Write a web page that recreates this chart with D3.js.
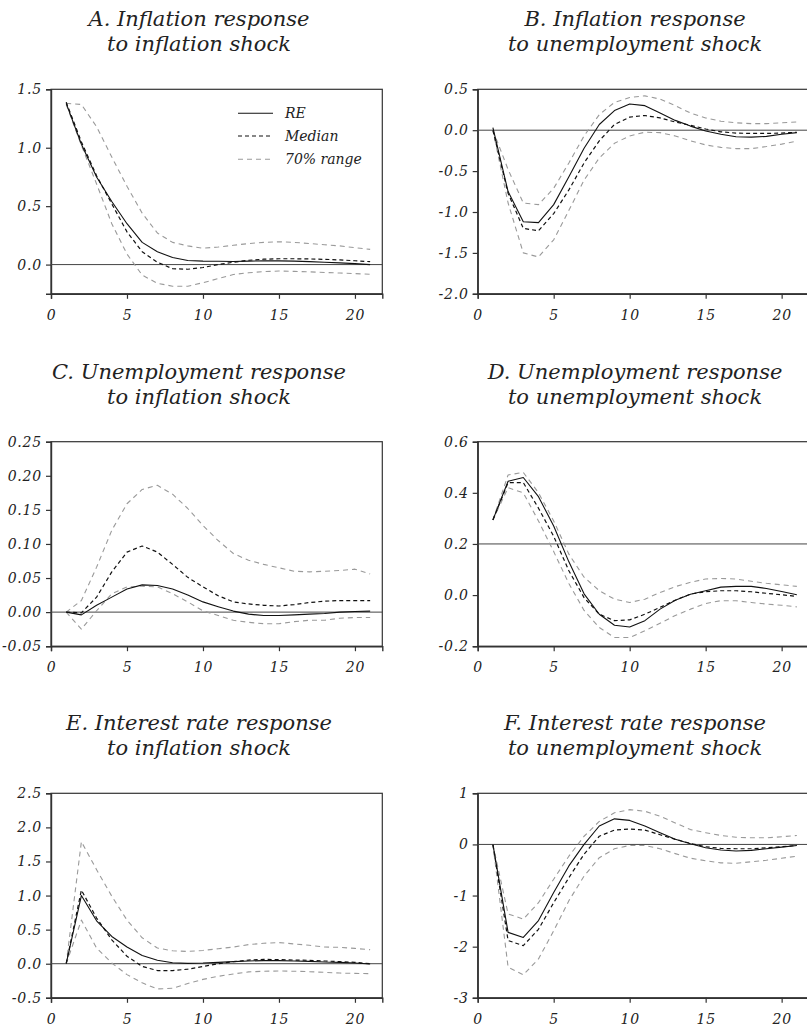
<!DOCTYPE html>
<html><head><meta charset="utf-8">
<script src="https://cdn.jsdelivr.net/npm/d3@7"></script>
<style>body{margin:0;background:#fff}svg{display:block}</style>
</head><body>
<svg id="chart" width="807" height="1027"></svg>
<script>
// ---------- data ----------
const periods = [1,2,3,4,5,6,7,8,9,10,11,12,13,14,15,16,17,18,19,20,21];
const xTicks = [0,5,10,15,20];

const aRE  = [1.38,1.03,0.75,0.54,0.35,0.19,0.11,0.06,0.035,0.03,0.028,0.027,0.03,0.032,0.032,0.03,0.025,0.02,0.015,0.008,0.0];
const aMed = [1.39,1.05,0.76,0.52,0.28,0.11,0.02,-0.035,-0.04,-0.025,0.0,0.02,0.037,0.046,0.05,0.05,0.048,0.045,0.04,0.033,0.025];
const aHi  = [1.38,1.37,1.18,0.92,0.67,0.44,0.27,0.19,0.16,0.14,0.15,0.165,0.18,0.19,0.195,0.19,0.18,0.17,0.16,0.145,0.13];
const aLo  = [1.37,1.02,0.69,0.35,0.09,-0.09,-0.16,-0.185,-0.185,-0.155,-0.12,-0.085,-0.07,-0.06,-0.055,-0.058,-0.062,-0.068,-0.072,-0.077,-0.083];

const bRE  = [0.03,-0.75,-1.12,-1.13,-0.91,-0.57,-0.22,0.07,0.24,0.32,0.30,0.21,0.12,0.05,-0.01,-0.05,-0.08,-0.085,-0.075,-0.05,-0.03];
const bMed = [0.0,-0.77,-1.2,-1.23,-1.02,-0.73,-0.40,-0.13,0.07,0.16,0.18,0.15,0.10,0.06,0.015,-0.02,-0.035,-0.04,-0.04,-0.035,-0.025];
const bHi  = [0.0,-0.48,-0.89,-0.91,-0.71,-0.40,-0.07,0.19,0.34,0.40,0.42,0.38,0.30,0.21,0.15,0.11,0.09,0.08,0.08,0.09,0.10];
const bLo  = [0.0,-0.89,-1.50,-1.55,-1.34,-0.98,-0.61,-0.34,-0.16,-0.07,-0.025,-0.03,-0.07,-0.13,-0.18,-0.21,-0.225,-0.225,-0.20,-0.17,-0.135];

const cRE  = [0,-0.004,0.01,0.022,0.034,0.040,0.039,0.034,0.025,0.015,0.008,0.0015,-0.003,-0.005,-0.005,-0.004,-0.003,-0.002,0.0,0.001,0.0015];
const cMed = [0,-0.001,0.022,0.059,0.088,0.097,0.088,0.070,0.051,0.037,0.024,0.015,0.012,0.010,0.009,0.011,0.014,0.016,0.017,0.017,0.017];
const cHi  = [0,0.017,0.066,0.12,0.159,0.18,0.186,0.173,0.152,0.127,0.105,0.086,0.076,0.070,0.065,0.060,0.059,0.060,0.061,0.063,0.056];
const cLo  = [0,-0.025,0.002,0.027,0.037,0.038,0.037,0.027,0.015,0.002,-0.005,-0.012,-0.015,-0.017,-0.017,-0.014,-0.012,-0.012,-0.009,-0.008,-0.008];

const dRE  = [0.294,0.445,0.46,0.385,0.27,0.13,0.005,-0.075,-0.118,-0.125,-0.10,-0.055,-0.02,0.003,0.017,0.031,0.034,0.034,0.026,0.014,0.001];
const dMed = [0.294,0.44,0.44,0.34,0.23,0.095,-0.01,-0.075,-0.10,-0.097,-0.075,-0.048,-0.02,0.004,0.013,0.017,0.017,0.013,0.007,0.001,-0.005];
const dHi  = [0.294,0.47,0.48,0.40,0.29,0.16,0.07,0.017,-0.016,-0.029,-0.016,0.01,0.033,0.05,0.063,0.065,0.063,0.054,0.046,0.04,0.034];
const dLo  = [0.294,0.42,0.40,0.29,0.17,0.045,-0.06,-0.127,-0.166,-0.166,-0.14,-0.11,-0.08,-0.055,-0.033,-0.022,-0.022,-0.029,-0.035,-0.04,-0.046];

const eRE  = [0,1.0,0.63,0.40,0.245,0.12,0.05,0.015,0.005,0.01,0.02,0.03,0.04,0.045,0.045,0.04,0.035,0.025,0.02,0.01,-0.005];
const eMed = [0,1.08,0.67,0.35,0.11,-0.04,-0.10,-0.10,-0.08,-0.04,0.0,0.03,0.054,0.063,0.06,0.054,0.05,0.04,0.03,0.02,0.0];
const eHi  = [0,1.79,1.38,0.99,0.64,0.38,0.23,0.19,0.18,0.195,0.22,0.245,0.28,0.30,0.31,0.29,0.27,0.245,0.24,0.225,0.205];
const eLo  = [0,0.64,0.23,0.01,-0.16,-0.28,-0.37,-0.36,-0.29,-0.23,-0.185,-0.15,-0.12,-0.11,-0.107,-0.11,-0.117,-0.127,-0.137,-0.142,-0.146];

const fRE  = [0,-1.72,-1.82,-1.49,-0.94,-0.42,0.0,0.36,0.50,0.47,0.36,0.23,0.10,0.013,-0.065,-0.11,-0.13,-0.117,-0.085,-0.052,-0.02];
const fMed = [0,-1.88,-1.98,-1.66,-1.14,-0.65,-0.19,0.16,0.28,0.30,0.28,0.19,0.10,0.02,-0.045,-0.078,-0.085,-0.085,-0.065,-0.045,-0.02];
const fHi  = [0,-1.36,-1.46,-1.14,-0.68,-0.23,0.16,0.45,0.62,0.68,0.65,0.55,0.42,0.29,0.23,0.175,0.14,0.13,0.13,0.15,0.175];
const fLo  = [0,-2.40,-2.55,-2.24,-1.69,-1.10,-0.62,-0.26,-0.085,-0.02,-0.02,-0.085,-0.18,-0.27,-0.32,-0.36,-0.37,-0.34,-0.31,-0.27,-0.23];

const titles = [
  ["A. Inflation response","to inflation shock"],
  ["B. Inflation response","to unemployment shock"],
  ["C. Unemployment response","to inflation shock"],
  ["D. Unemployment response","to unemployment shock"],
  ["E. Interest rate response","to inflation shock"],
  ["F. Interest rate response","to unemployment shock"]
];
const yDomains = [[-0.25,1.5],[-2.0,0.5],[-0.05,0.25],[-0.2,0.6],[-0.5,2.5],[-3,1]];
const yTickVals = [
  [0,0.5,1.0,1.5],
  [-2.0,-1.5,-1.0,-0.5,0,0.5],
  [-0.05,0,0.05,0.10,0.15,0.20,0.25],
  [-0.2,0,0.2,0.4,0.6],
  [-0.5,0,0.5,1.0,1.5,2.0,2.5],
  [-3,-2,-1,0,1]
];
const yTickFormats = [".1f",".1f",".2f",".1f",".1f","d"];
const refLines = [0,0,0,0.2,0,0];
const seriesRE  = [aRE,bRE,cRE,dRE,eRE,fRE];
const seriesMed = [aMed,bMed,cMed,dMed,eMed,fMed];
const seriesHi  = [aHi,bHi,cHi,dHi,eHi,fHi];
const seriesLo  = [aLo,bLo,cLo,dLo,eLo,fLo];
const legendLabels = ["RE","Median","70% range"];

// ---------- layout ----------
const svg = d3.select("#chart");
const locale = d3.formatLocale({decimal:".",thousands:",",grouping:[3],currency:["",""],minus:"-"});
const colLeft = [51, 477.7];
const rowTop = [89.3, 441.7, 793.3];
const plotW = 331.3, plotH = 204.5;
const titleCX = [199, 635];
const FONT = "'DejaVu Serif', serif";
const styles = {
  hi:  {stroke:"#9a9a9a", width:1.1, dash:"5,4"},
  lo:  {stroke:"#9a9a9a", width:1.1, dash:"5,4"},
  med: {stroke:"#111", width:1.2, dash:"4,3"},
  re:  {stroke:"#111", width:1.1, dash:null}
};

titles.forEach((t, i) => {
  const col = i % 2, row = Math.floor(i / 2);
  const x0 = colLeft[col], y0 = rowTop[row];
  const x = d3.scaleLinear().domain([0, 21.8]).range([x0, x0 + plotW]);
  const y = d3.scaleLinear().domain(yDomains[i]).range([y0 + plotH, y0]);
  const g = svg.append("g");

  // title
  const tt = g.append("text").attr("x", titleCX[col]).attr("text-anchor","middle")
    .style("font-family", FONT).style("font-style","italic").style("font-size","21px").attr("fill","#222");
  tt.append("tspan").attr("x", titleCX[col]).attr("y", y0 - 63).text(t[0]);
  tt.append("tspan").attr("x", titleCX[col]).attr("y", y0 - 38).text(t[1]);

  // frame
  g.append("rect").attr("x", x0).attr("y", y0).attr("width", plotW).attr("height", plotH)
    .attr("fill","none").attr("stroke","#333").attr("stroke-width",1.2);

  // axes
  const fmt = locale.format(yTickFormats[i]);
  const yAxis = g.append("g").attr("transform", `translate(${x0},0)`)
    .call(d3.axisLeft(y).tickValues(yTickVals[i]).tickFormat(fmt).tickSize(5).tickPadding(4));
  const xAxis = g.append("g").attr("transform", `translate(0,${y0 + plotH})`)
    .call(d3.axisBottom(x).tickValues(xTicks).tickSize(5).tickPadding(11));
  [yAxis, xAxis].forEach(a => {
    a.select(".domain").attr("stroke","#333").attr("stroke-width",1.4);
    a.selectAll(".tick line").attr("stroke","#333").attr("stroke-width",1.2);
    a.selectAll("text").style("font-family", FONT).style("font-style","italic")
      .style("font-size","14px").style("letter-spacing","0.8px").attr("fill","#222");
  });

  // reference line
  g.append("line").attr("x1", x0).attr("x2", x0 + plotW)
    .attr("y1", y(refLines[i])).attr("y2", y(refLines[i]))
    .attr("stroke","#444").attr("stroke-width",1);

  const line = d3.line().x((d, k) => x(periods[k])).y(d => y(d));
  [["hi", seriesHi[i]], ["lo", seriesLo[i]], ["med", seriesMed[i]], ["re", seriesRE[i]]].forEach(([k, data]) => {
    const s = styles[k];
    g.append("path").datum(data).attr("d", line).attr("fill","none")
      .attr("stroke", s.stroke).attr("stroke-width", s.width)
      .attr("stroke-dasharray", s.dash).attr("stroke-linejoin","round");
  });

  // legend in panel A
  if (i === 0) {
    const lk = ["re","med","hi"];
    const ly = [113.3, 136, 159.3];
    legendLabels.forEach((lab, j) => {
      const s = styles[lk[j]];
      g.append("line").attr("x1", 238).attr("x2", 273).attr("y1", ly[j]).attr("y2", ly[j])
        .attr("stroke", s.stroke).attr("stroke-width", s.width).attr("stroke-dasharray", s.dash);
      g.append("text").attr("x", 285).attr("y", ly[j] + 4.5).text(lab)
        .style("font-family", FONT).style("font-style","italic").style("font-size","14px").attr("fill","#222");
    });
  }
});
</script>
</body></html>
